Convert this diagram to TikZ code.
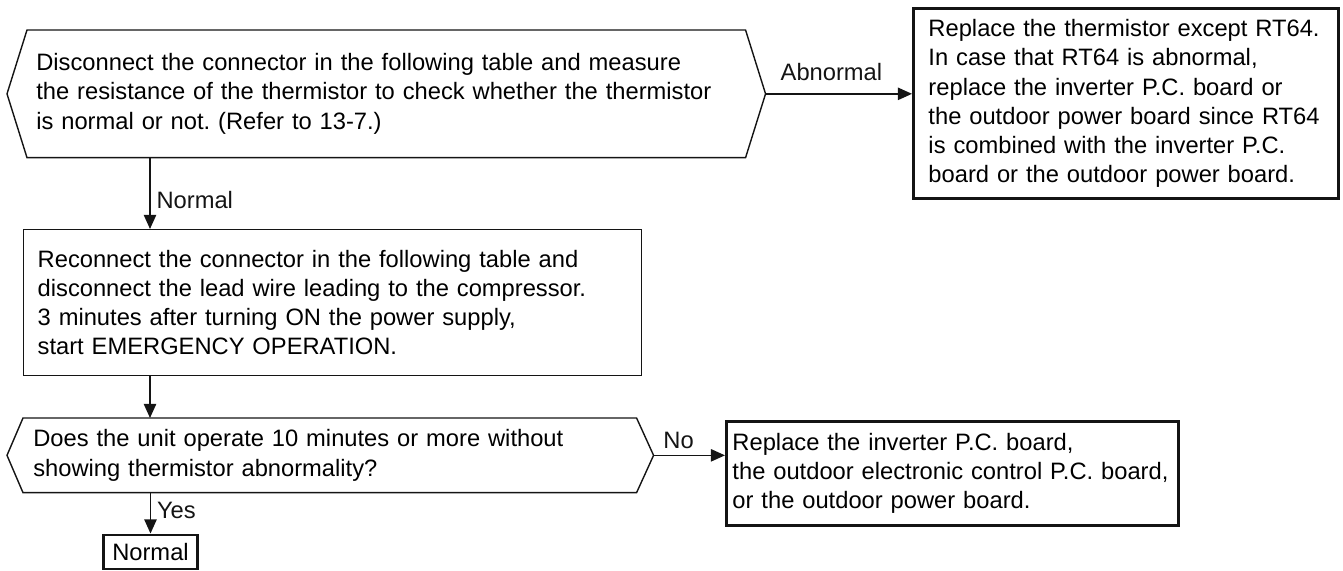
\documentclass[tikz,border=0pt]{standalone}
\usepackage{fontspec}
\setmainfont{Liberation Sans}
\usepackage{tikz}
\usetikzlibrary{arrows.meta, positioning, calc}
\frenchspacing
\definecolor{inkblack}{RGB}{20, 20, 20}
\tikzstyle{stepbox} = [
    rectangle,
    anchor=north west,
    align=left,
    draw=inkblack,
    line width=0.8pt,
    font=\fontsize{13.5}{16.6}\selectfont
]
\tikzstyle{resultbox} = [
    stepbox,
    line width=1.7pt
]
\tikzstyle{query} = [
    rectangle,
    anchor=north west,
    align=left,
    font=\fontsize{13.5}{16.6}\selectfont
]
\tikzstyle{outline} = [
    line width=0.8pt,
    color=inkblack,
    line join=miter
]
\tikzstyle{arrow} = [
    line width=0.8pt,
    color=inkblack,
    -{Triangle[length=8pt, width=7pt]}
]
\tikzstyle{tag} = [
    font=\fontsize{13.5}{16.6}\selectfont
]

\begin{document}
\begin{tikzpicture}[x=0.02cm, y=-0.02cm]
        \useasboundingbox (0,0) rectangle (1343,571);
        \coordinate (spine) at (150,0);

        % First check
        \node[query, minimum width=14.36cm, minimum height=2.54cm, text width=14cm, inner xsep=0.18cm] (check) at (27,30)
            {Disconnect the connector in the following table and measure\\the resistance of the thermistor to check whether the thermistor\\is normal or not. (Refer to 13-7.)};
        \coordinate (checkr) at ([xshift=0.4cm]check.east);
        \coordinate (checkl) at ([xshift=-0.4cm]check.west);
        \draw[outline] (check.north west) -- (check.north east) -- (checkr) -- (check.south east) -- (check.south west) -- (checkl) -- cycle;

        % Abnormal result
        \node[resultbox, minimum width=8.5cm, minimum height=3.8cm, text width=7.9cm, inner xsep=0.3cm] (replace) at (912,7)
            {Replace the thermistor except RT64.\\In case that RT64 is abnormal,\\replace the inverter P.C. board or\\the outdoor power board since RT64\\is combined with the inverter P.C.\\board or the outdoor power board.};

        % Reconnect step
        \node[stepbox, minimum width=12.36cm, minimum height=2.92cm, text width=11.8cm, inner xsep=0.28cm] (reconnect) at (23,229)
            {Reconnect the connector in the following table and\\disconnect the lead wire leading to the compressor.\\3 minutes after turning ON the power supply,\\start EMERGENCY OPERATION.};

        % Second check
        \node[query, minimum width=12.26cm, minimum height=1.48cm, text width=11.86cm, inner xsep=0.2cm] (operate) at (23,418)
            {Does the unit operate 10 minutes or more without\\showing thermistor abnormality?};
        \coordinate (operater) at ([xshift=0.34cm]operate.east);
        \coordinate (operatel) at ([xshift=-0.32cm]operate.west);
        \draw[outline] (operate.north west) -- (operate.north east) -- (operater) -- (operate.south east) -- (operate.south west) -- (operatel) -- cycle;

        % Board result
        \node[resultbox, minimum width=9.04cm, minimum height=2.08cm, text width=8.8cm, inner xsep=0.12cm] (boards) at (725,420)
            {Replace the inverter P.C. board,\\the outdoor electronic control P.C. board,\\or the outdoor power board.};

        % Normal end
        \node[resultbox, anchor=center, align=center, minimum width=1.9cm, minimum height=0.68cm, inner sep=0pt] (normal) at (150.5,552) {Normal};

        % Arrows
        \draw[arrow] (checkr) -- node[tag, above=4pt, pos=0.45]{Abnormal} (checkr -| replace.west);
        \draw[arrow] (spine |- check.south) -- node[tag, right, pos=0.6]{Normal} (spine |- reconnect.north);
        \draw[arrow] (spine |- reconnect.south) -- (spine |- operate.north);
        \draw[arrow] (operater) -- node[tag, above, pos=0.35]{No} (operater -| boards.west);
        \draw[arrow] (normal.north |- operate.south) -- node[tag, right, pos=0.44]{Yes} (normal.north);
    \end{tikzpicture}
\end{document}
